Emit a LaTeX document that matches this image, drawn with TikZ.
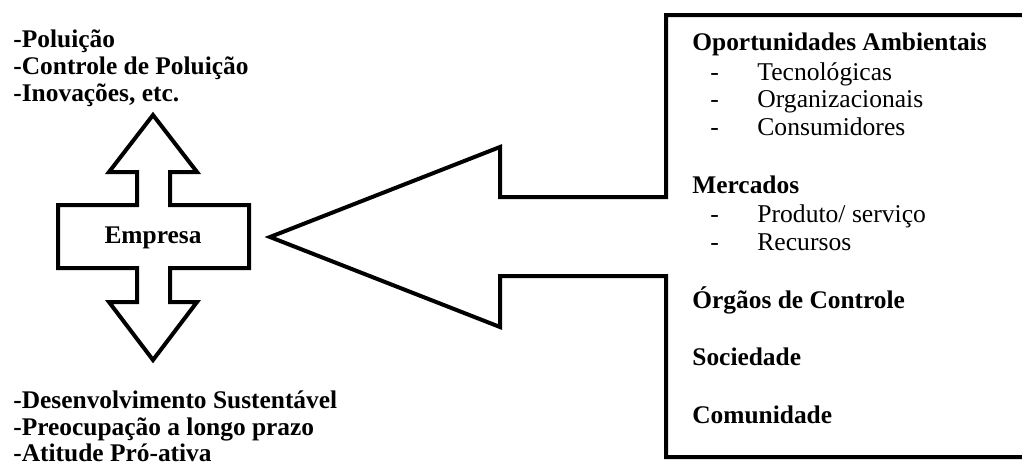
\documentclass[tikz,border=0pt]{standalone}
\usepackage{fontspec}
\setmainfont{Liberation Serif}
\usepackage{tikz}

\begin{document}
\begin{tikzpicture}[x=0.5pt,y=-0.5pt]
	\tikzstyle{outline} = [draw, line width=2pt, line join=miter]
	\tikzstyle{itemtext} = [anchor=base west, inner sep=0pt, font=\fontsize{12.8}{15}\selectfont]
	\tikzstyle{heading} = [itemtext, font=\fontsize{12.7}{15}\selectfont\bfseries]
	\tikzstyle{bullet} = [itemtext]
	
	\useasboundingbox (0,0) rectangle (1022,468);
	
	% empresa: double arrow with bar
	\draw[outline] (153,115) -- (197,172) -- (170,172) -- (170,205) -- (249,205) -- (249,268)
		-- (170,268) -- (170,302) -- (197,302) -- (153,360) -- (109,302) -- (137,302)
		-- (137,268) -- (58,268) -- (58,205) -- (137,205) -- (137,172) -- (109,172) -- cycle;
	\node[heading, anchor=base](empresa) at (153,243) {Empresa};
	
	% box and big arrow, open on the right
	\coordinate (topend) at (1040,15);
	\coordinate (botend) at (1040,457);
	\draw[outline] (topend) -- (666,15) -- (666,197) -- (500,197) -- (500,147) -- (270,237)
		-- (500,327) -- (500,276) -- (666,276) -- (666,457) -- (botend);
	
	\node[heading](poluicao) at (13,47) {-Poluição};
	\node[heading](controle) at (13,74) {-Controle de Poluição};
	\node[heading](inovacoes) at (13,101) {-Inovações, etc.};
	
	\node[heading](desenv) at (13,408) {-Desenvolvimento Sustentável};
	\node[heading](preocup) at (13,435) {-Preocupação a longo prazo};
	\node[heading](atitude) at (13,461) {-Atitude Pró-ativa};
	
	\node[heading](oport) at (692,50) {Oportunidades Ambientais};
	\node[bullet](d1) at (710,80) {-};
	\node[itemtext](tecno) at (757,80) {Tecnológicas};
	\node[bullet](d2) at (710,107) {-};
	\node[itemtext](organiz) at (757,107) {Organizacionais};
	\node[bullet](d3) at (710,135) {-};
	\node[itemtext](consum) at (757,135) {Consumidores};
	
	\node[heading](mercados) at (692,193) {Mercados};
	\node[bullet](d4) at (710,222) {-};
	\node[itemtext](produto) at (757,222) {Produto/ serviço};
	\node[bullet](d5) at (710,250) {-};
	\node[itemtext](recursos) at (757,250) {Recursos};
	
	\node[heading](orgaos) at (692,308) {Órgãos de Controle};
	\node[heading](sociedade) at (692,365) {Sociedade};
	\node[heading](comunidade) at (692,423) {Comunidade};
	
\end{tikzpicture}
\end{document}
